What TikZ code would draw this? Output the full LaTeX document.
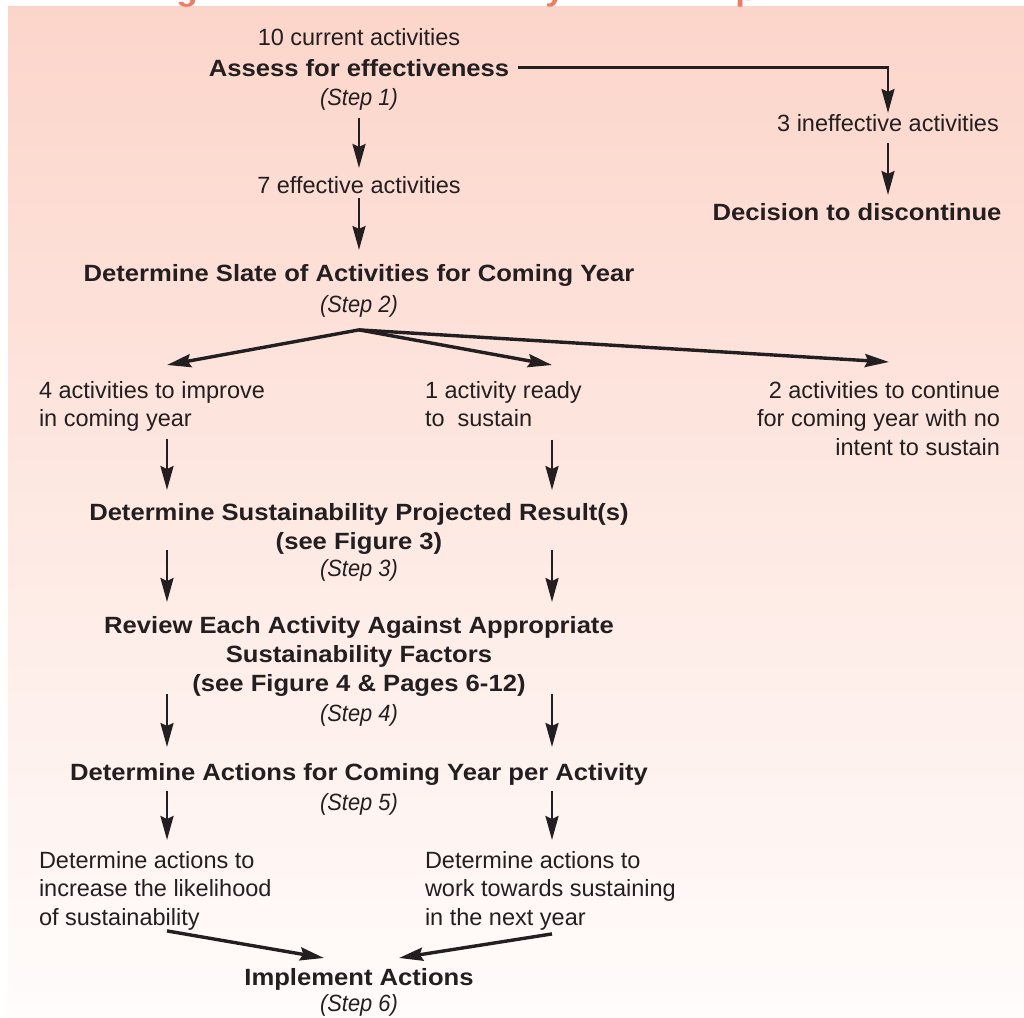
\documentclass[tikz,border=0pt]{standalone}
\usepackage{fontspec}
\setmainfont{Liberation Sans}[BoldFeatures={FakeStretch=1.09},ItalicFeatures={FakeStretch=0.93}]
\usetikzlibrary{calc,arrows.meta}
\definecolor{bgtop}{HTML}{FCD5CA}
\definecolor{bgbot}{HTML}{FFFCFB}
\definecolor{ink}{HTML}{231F20}
\definecolor{titlered}{HTML}{F07A66}
\begin{document}
\begin{tikzpicture}[x=1pt,y=-1pt,
  every node/.style={inner sep=0pt, outer sep=0pt, text=ink},
  txt/.style={font=\fontsize{23.5}{28.5}\selectfont},
  head/.style={font=\fontsize{23.5}{29}\selectfont\bfseries},
  stepnote/.style={font=\fontsize{23.5}{28.5}\selectfont\itshape},
  titletxt/.style={font=\fontsize{32}{36}\selectfont\bfseries, text=titlered},
  arr/.style={draw=ink, line width=2.6pt, -{Stealth[length=24pt,width=13pt,inset=3pt]}},
  darr/.style={arr, line width=3.4pt},
]
\useasboundingbox (0,0) rectangle (1024,1017);
\shade[top color=bgtop, bottom color=bgbot] (8,6) rectangle (1024,1017);

% cut-off title letters
\begin{scope}
\clip (0,0) rectangle (1024,9);
\node[titletxt, anchor=base] (tg) at (187,0.5) {g};
\node[titletxt, anchor=base] (ty) at (555,0.5) {y};
\node[titletxt, anchor=base] (tp) at (746,0.5) {p};
\end{scope}

\node[txt, anchor=base] (cur) at (359,45) {10 current activities};
\node[head, anchor=base] (assess) at (359,76) {Assess for effectiveness};
\node[stepnote, anchor=base] (step1) at (359,105) {(Step 1)};
\node[txt, anchor=base] (ineff) at (888,131) {3 ineffective activities};
\node[head, anchor=base] (disc) at (857,220) {Decision to discontinue};
\node[txt, anchor=base] (eff) at (359,193) {7 effective activities};
\node[head, anchor=base] (slate) at (359,281) {Determine Slate of Activities for Coming Year};
\node[stepnote, anchor=base] (step2) at (359,312) {(Step 2)};
\node[txt, anchor=north west, align=left] (imp) at (39,381) {4 activities to improve\\in coming year};
\node[txt, anchor=north west, align=left] (ready) at (425,381) {1 activity ready\\to\ \ sustain};
\node[txt, anchor=north east, align=right] (cont) at (1000,381) {2 activities to continue\\for coming year with no\\intent to sustain};
\node[head, anchor=north, align=center] (sust) at (359,503) {Determine Sustainability Projected Result(s)\\(see Figure 3)};
\node[stepnote, anchor=base] (step3) at (359,576) {(Step 3)};
\node[head, anchor=north, align=center] (review) at (359,616) {Review Each Activity Against Appropriate\\Sustainability Factors\\(see Figure 4 \& Pages 6-12)};
\node[stepnote, anchor=base] (step4) at (359,721) {(Step 4)};
\node[head, anchor=base] (detact) at (359,780) {Determine Actions for Coming Year per Activity};
\node[stepnote, anchor=base] (step5) at (359,810) {(Step 5)};
\node[txt, anchor=north west, align=left] (incr) at (39,851) {Determine actions to\\increase the likelihood\\of sustainability};
\node[txt, anchor=north west, align=left] (work) at (425,851) {Determine actions to\\work towards sustaining\\in the next year};
\node[head, anchor=base] (impl) at (359,985) {Implement Actions};
\node[stepnote, anchor=base] (step6) at (359,1011) {(Step 6)};

\coordinate (L) at (167,0);
\coordinate (R) at (552,0);
\coordinate (C) at (889,0);
\coordinate (br) at ($(step2.south)+(0,13)$);

\draw[arr, shorten <=9pt, shorten >=1pt] (assess.east) -| (ineff.north);
\draw[arr, shorten <=12pt, shorten >=8pt] (ineff.south) -- (ineff.south |- disc.north);
\draw[arr, shorten <=8pt, shorten >=8pt] (step1.south) -- (eff.north);
\draw[arr, shorten <=5pt, shorten >=14pt] (eff.south) -- (slate.north);

\draw[darr] (br) -- ($(imp.north -| L)+(0,-16)$);
\draw[darr] (br) -- ($(ready.north -| R)+(0,-16)$);
\draw[darr] (br) -- ($(cont.north -| C)+(0,-19)$);

\draw[arr, shorten <=8pt, shorten >=13pt] (imp.south -| L) -- (sust.north -| L);
\draw[arr, shorten <=13pt, shorten >=13pt] (ready.south -| R) -- (sust.north -| R);

\draw[arr, shorten >=14pt] ($(sust.south -| L)+(0,-4)$) -- (review.north -| L);
\draw[arr, shorten >=14pt] ($(sust.south -| R)+(0,-4)$) -- (review.north -| R);

\draw[arr, shorten >=16pt] ($(review.south -| L)+(0,-2)$) -- (detact.north -| L);
\draw[arr, shorten >=16pt] ($(review.south -| R)+(0,-2)$) -- (detact.north -| R);

\draw[arr, shorten <=6pt, shorten >=11pt] (detact.south -| L) -- (incr.north -| L);
\draw[arr, shorten <=6pt, shorten >=11pt] (detact.south -| R) -- (work.north -| R);

\draw[darr] ($(incr.south -| L)+(0,1)$) -- ($(impl.north)+(-35,-10)$);
\draw[darr] ($(work.south -| R)+(0,4)$) -- ($(impl.north)+(40,-10)$);
\end{tikzpicture}
\end{document}
